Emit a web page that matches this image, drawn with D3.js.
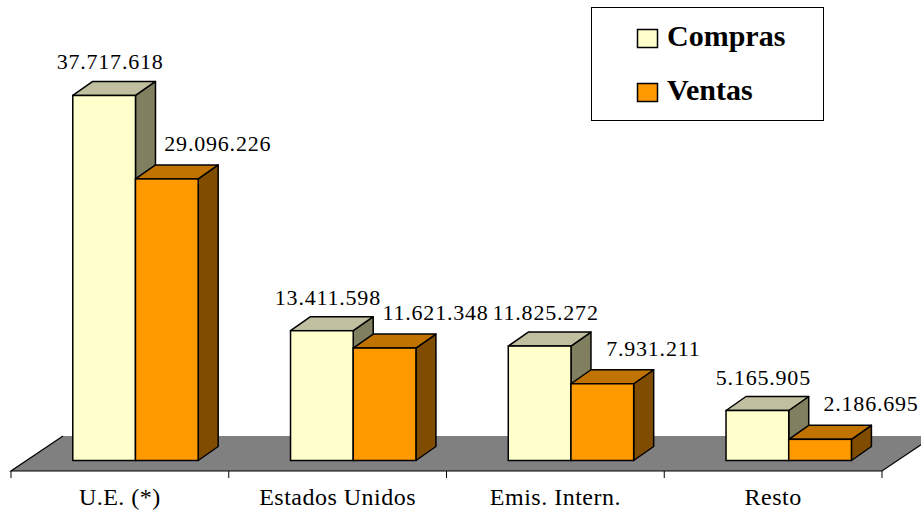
<!DOCTYPE html>
<html>
<head>
<meta charset="utf-8">
<script src="https://cdn.jsdelivr.net/npm/d3@7"></script>
<style>
  html, body { margin: 0; padding: 0; background: #fff; }
  svg { display: block; }
</style>
</head>
<body>
<svg id="chart" width="921" height="513"></svg>
<script>
// ---- data ----
const categories = ["U.E. (*)", "Estados Unidos", "Emis. Intern.", "Resto"];
const seriesNames = ["Compras", "Ventas"];
const compras = [37717618, 13411598, 11825272, 5165905];
const ventas  = [29096226, 11621348, 7931211, 2186695];
const valueDomain = [0, 40000000];

// ---- layout ----
const FONT = '"Liberation Serif"';
const floorFrontY = 471;
const floorDepth = { dx: 52, dy: -35 };
const barDepthFrac = 0.3;
const barDepth = { dx: 20, dy: -14 };
const axisX = [11, 882];
const groupWidth = 125.4;

const colors = {
  Compras: { front: "#FFFFCC", top: "#C0C0A0", side: "#808060" },
  Ventas:  { front: "#FF9900", top: "#C07300", side: "#804C00" }
};

const svg = d3.select("#chart");

const x = d3.scaleBand().domain(categories).range(axisX).padding(0);
const shiftX = floorDepth.dx * barDepthFrac;
const shiftY = floorDepth.dy * barDepthFrac;
const baseY = floorFrontY + shiftY;
const y = d3.scaleLinear().domain(valueDomain).range([baseY, baseY - 387.1]);
const sx = d3.scaleBand().domain(seriesNames).range([0, groupWidth]).padding(0);

const loc = d3.formatLocale({ decimal: ",", thousands: ".", grouping: [3], currency: ["", ""] });
const fmt = loc.format(",d");

// ---- floor ----
const fl = [
  [axisX[0], floorFrontY],
  [axisX[1], floorFrontY],
  [axisX[1] + floorDepth.dx, floorFrontY + floorDepth.dy],
  [axisX[0] + floorDepth.dx, floorFrontY + floorDepth.dy]
];
svg.append("path")
  .attr("d", "M" + fl.map(p => p.join(",")).join("L") + "Z")
  .attr("fill", "#808080");
svg.append("path")
  .attr("d", `M${fl[3][0]},${fl[3][1]}L${fl[0][0]},${fl[0][1]}L${fl[1][0]},${fl[1][1]}L${fl[2][0]},${fl[2][1]}`)
  .attr("fill", "none").attr("stroke", "#000").attr("stroke-width", 1.2);

// ---- category axis ----
const axisG = svg.append("g").attr("transform", `translate(0,${floorFrontY})`);
const bounds = categories.map(c => x(c)).concat([axisX[1]]);
axisG.selectAll("line.tick").data(bounds).join("line")
  .attr("x1", d => d).attr("x2", d => d)
  .attr("y1", 0).attr("y2", 7)
  .attr("stroke", "#000").attr("stroke-width", 1);
axisG.selectAll("text.cat").data(categories).join("text")
  .attr("class", "cat")
  .attr("x", d => x(d) + x.bandwidth() / 2)
  .attr("y", 34)
  .attr("text-anchor", "middle")
  .style("font-family", FONT)
  .style("font-size", "24px")
  .style("letter-spacing", "0.5px")
  .attr("fill", "#000")
  .text(d => d);

// ---- bars ----
const rows = categories.map((c, i) => ({ cat: c, values: [
  { s: "Compras", v: compras[i] },
  { s: "Ventas", v: ventas[i] }
]}));

const labelOffset = { Compras: { dx: 6, dy: -26 }, Ventas: { dx: 51, dy: -28 } };

rows.forEach(r => {
  const gx = x(r.cat) + x.bandwidth() / 2 - groupWidth / 2 + shiftX;
  r.values.forEach(d => {
    const x0 = gx + sx(d.s), x1 = x0 + sx.bandwidth();
    const yt = y(d.v), yb = y(0);
    const c = colors[d.s];
    const g = svg.append("g");
    const ddx = barDepth.dx, ddy = barDepth.dy;
    g.append("path")
      .attr("d", `M${x1},${yb}L${x1 + ddx},${yb + ddy}L${x1 + ddx},${yt + ddy}L${x1},${yt}Z`)
      .attr("fill", c.side).attr("stroke", "#000").attr("stroke-width", 1.5).attr("stroke-linejoin", "round");
    g.append("path")
      .attr("d", `M${x0},${yt}L${x0 + ddx},${yt + ddy}L${x1 + ddx},${yt + ddy}L${x1},${yt}Z`)
      .attr("fill", c.top).attr("stroke", "#000").attr("stroke-width", 1.5).attr("stroke-linejoin", "round");
    g.append("rect")
      .attr("x", x0).attr("y", yt).attr("width", x1 - x0).attr("height", yb - yt)
      .attr("fill", c.front).attr("stroke", "#000").attr("stroke-width", 1.5);
  });
});

// ---- value labels ----
rows.forEach(r => {
  const gx = x(r.cat) + x.bandwidth() / 2 - groupWidth / 2 + shiftX;
  r.values.forEach(d => {
    const cx = gx + sx(d.s) + sx.bandwidth() / 2;
    const o = labelOffset[d.s];
    svg.append("text")
      .attr("x", cx + o.dx)
      .attr("y", y(d.v) + o.dy)
      .attr("text-anchor", "middle")
      .style("font-family", FONT)
      .style("font-size", "22px")
      .style("letter-spacing", "0.8px")
      .attr("fill", "#000")
      .text(fmt(d.v));
  });
});

// ---- legend ----
const lg = svg.append("g");
lg.append("rect").attr("x", 591.5).attr("y", 7.5).attr("width", 232).attr("height", 113)
  .attr("fill", "#fff").attr("stroke", "#000").attr("stroke-width", 1);
seriesNames.forEach((s, i) => {
  const yy = 29 + i * 54;
  lg.append("rect").attr("x", 637.5).attr("y", yy + 0.5).attr("width", 20).attr("height", 18)
    .attr("fill", colors[s].front).attr("stroke", "#000").attr("stroke-width", 1.5);
  lg.append("text").attr("x", 667).attr("y", yy + 17)
    .style("font-family", FONT)
    .style("font-size", "30px").style("font-weight", "bold").attr("fill", "#000")
    .text(s);
});
</script>
</body>
</html>
